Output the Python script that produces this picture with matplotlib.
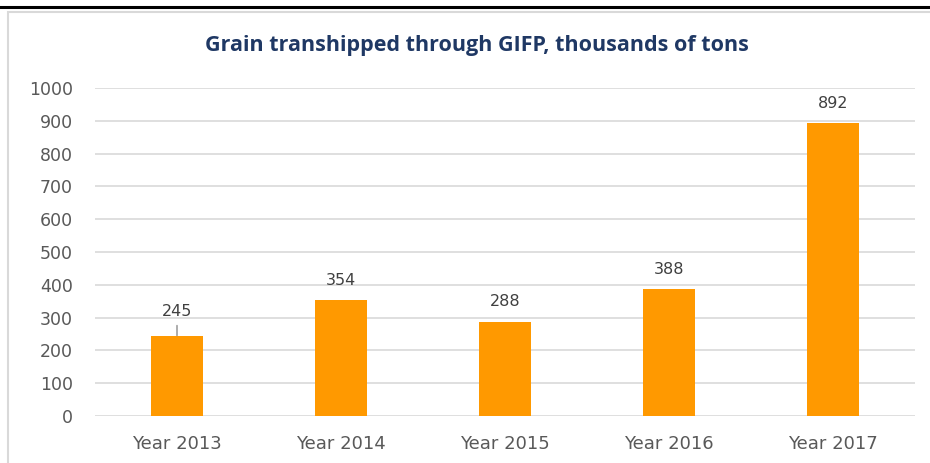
import matplotlib.pyplot as plt
from matplotlib.patches import Rectangle
from matplotlib.lines import Line2D

years = ['Year 2013', 'Year 2014', 'Year 2015', 'Year 2016', 'Year 2017']
tons = [245, 354, 288, 388, 892]
yticks = [0, 100, 200, 300, 400, 500, 600, 700, 800, 900, 1000]

plt.rcParams['font.family'] = ['DejaVu Sans']

fig = plt.figure(figsize=(9.3, 4.63), dpi=100)
W, H = 930, 463

# page line above the chart frame + frame
fig.add_artist(Line2D([0, 1], [1 - 7 / H, 1 - 7 / H], color='black', lw=2.2))
fig.add_artist(Rectangle((8 / W, -0.1), 1.2, 1 - 12.5 / H + 0.1, fill=False,
                         edgecolor='#d9d9d9', lw=1.5))

ax = fig.add_axes([95 / W, 1 - 416 / H, 820 / W, 328 / H])
x = range(len(years))
ax.bar(x, tons, width=0.32, color='#ff9900', zorder=3)
ax.set_xlim(-0.5, len(years) - 0.5)
ax.set_ylim(0, 1000)
ax.set_yticks(yticks)
ax.yaxis.grid(True, color='#d9d9d9', lw=1.2, zorder=0)
for s in ax.spines.values():
    s.set_visible(False)
ax.tick_params(length=0, colors='#595959', labelsize=12.5)
ax.tick_params(axis='y', pad=16)
ax.tick_params(axis='x', pad=14, labelsize=13)
ax.set_xticks(list(x))
ax.set_xticklabels(years)

for i, v in enumerate(tons):
    if i == 0:
        ax.annotate(str(v), xy=(i, v), xytext=(i, v + 75), ha='center', va='center',
                    fontsize=11.5, color='#404040',
                    arrowprops=dict(arrowstyle='-', color='#8c8c8c', lw=1,
                                    shrinkA=3, shrinkB=0))
    else:
        ax.text(i, v + 60, str(v), ha='center', va='center', fontsize=11.5, color='#404040')

fig.text(477 / W, 1 - 46 / H, 'Grain transhipped through GIFP, thousands of tons',
         ha='center', va='center', fontsize=15.5, fontweight='bold', color='#1f3864',
         family=['Open Sans', 'DejaVu Sans'])

fig.savefig('out.png', dpi=100)
